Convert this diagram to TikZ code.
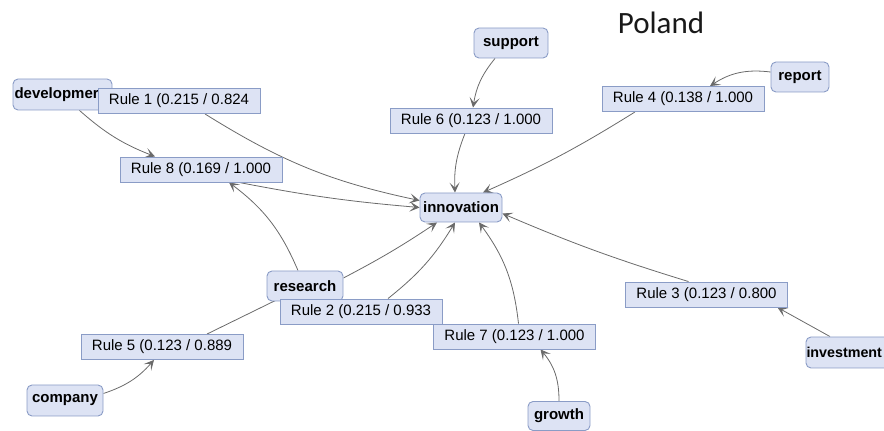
\documentclass[tikz,border=0pt]{standalone}
\usepackage{fontspec}
\setmainfont{Liberation Sans}
\newfontfamily\titlefont{Carlito}
\usetikzlibrary{arrows.meta,backgrounds}
\definecolor{nodefill}{HTML}{DDE3F4}
\definecolor{nodeline}{HTML}{8A9CC6}
\definecolor{edgegray}{HTML}{6A6A6A}
\tikzset{
  rulebox/.style={draw=nodeline, fill=nodefill, line width=0.9pt, minimum width=162pt, minimum height=25pt, inner sep=0pt, font=\fontsize{15}{18}\selectfont},
  term/.style={draw=nodeline, fill=nodefill, line width=0.9pt, rounded corners=5pt, minimum height=30pt, inner sep=0pt, font=\bfseries\fontsize{15}{18}\selectfont},
  leftterm/.style={term, align=left, inner xsep=1.5pt},
  edge/.style={draw=edgegray, line width=0.8pt, -{Stealth[length=10pt,width=10pt,inset=5pt]}},
}
\begin{document}
\begin{tikzpicture}[x=1pt,y=1pt]
\useasboundingbox (0,0) rectangle (884,431);
\node[text=black!90] (title) at (661,408) {\titlefont\fontsize{31}{36}\selectfont Poland};
\node[term, minimum width=74pt] (sup) at (511,388) {support};
\node[term, minimum width=58pt] (rep) at (800,354) {report};
\node[leftterm, text width=96pt, minimum height=31pt] (dev) at (62.5,336.5) {developmer};
\node[rulebox] (r1) at (179,330) {Rule 1 (0.215 / 0.824};
\node[rulebox] (r8) at (201,261.5) {Rule 8 (0.169 / 1.000};
\node[rulebox] (r6) at (471,310.5) {Rule 6 (0.123 / 1.000};
\node[rulebox] (r4) at (683,332) {Rule 4 (0.138 / 1.000};
\node[term, minimum width=82pt, minimum height=29pt] (inno) at (461,223.5) {innovation};
\node[term, minimum width=76pt] (res) at (305,145) {research};
\node[rulebox] (r2) at (361,119.5) {Rule 2 (0.215 / 0.933};
\node[rulebox] (r7) at (514.5,94.5) {Rule 7 (0.123 / 1.000};
\node[rulebox] (r3) at (706.5,136.5) {Rule 3 (0.123 / 0.800};
\node[rulebox] (r5) at (162,84) {Rule 5 (0.123 / 0.889};
\node[term, minimum width=76pt, minimum height=31pt] (comp) at (65,30.5) {company};
\node[term, minimum width=62pt, minimum height=29pt] (grow) at (559,15) {growth};
\node[leftterm, inner xsep=0.5pt, text width=83pt, minimum height=31pt, font=\bfseries\fontsize{14.3}{18}\selectfont] (inv) at (848,78.5) {investment};
\begin{scope}[on background layer]
\draw[edge] ([xshift=17pt]dev.south) to[bend right=10] ([xshift=-46pt]r8.north);
\draw[edge] ([xshift=26pt]r1.south) to[bend right=10] ([yshift=7pt]inno.west);
\draw[edge] ([xshift=38pt]r8.south) to[bend right=3] (inno.west);
\draw[edge] ([xshift=-7pt]res.north) to[bend right=15] ([xshift=28pt]r8.south);
\draw[edge] ([yshift=8pt]res.east) to[bend right=3] ([xshift=-24pt]inno.south);
\draw[edge] ([xshift=27pt]r2.north) to[bend right=10] ([xshift=-6pt]inno.south);
\draw[edge] ([xshift=4pt]r7.north) to[bend right=15] ([xshift=18pt]inno.south);
\draw[edge] (grow.north) to[bend right=20] ([xshift=26pt]r7.south);
\draw[edge] ([yshift=7pt]comp.east) to[bend right=15] ([xshift=-8pt]r5.south);
\draw[edge] ([xshift=45pt]r5.north) -- (res.center);
\draw[edge] ([xshift=-18pt]inv.north) -- ([xshift=71pt]r3.south);
\draw[edge] ([xshift=-18pt]r3.north) to[bend left=3] ([yshift=-6pt]inno.east);
\draw[edge] ([yshift=5pt]rep.west) to[bend right=20] ([xshift=27pt]r4.north);
\draw[edge] ([xshift=-48pt]r4.south) to[bend left=4] ([xshift=22pt]inno.north);
\draw[edge] ([xshift=-16pt]sup.south) to[bend right=15] ([xshift=2pt]r6.north);
\draw[edge] ([xshift=-6pt]r6.south) to[bend right=12] ([xshift=-6pt]inno.north);
\end{scope}
\end{tikzpicture}
\end{document}
